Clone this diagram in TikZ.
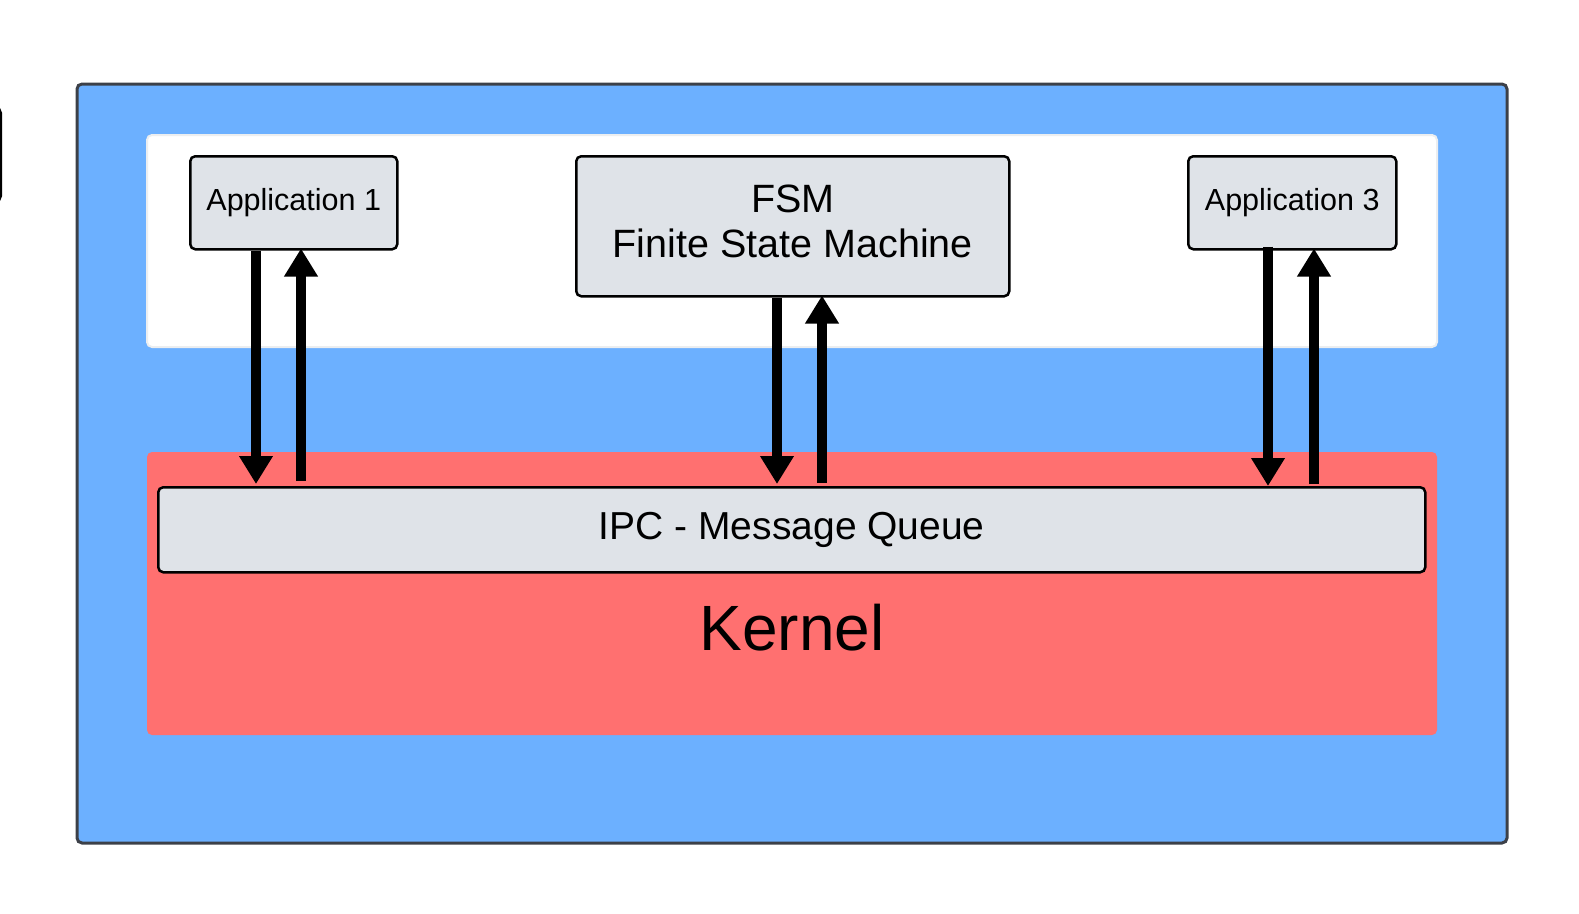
\documentclass[tikz,border=0pt]{standalone}
\usepackage{fontspec}
\setmainfont{Liberation Sans}
\usetikzlibrary{arrows.meta}
\definecolor{outerblue}{RGB}{108,176,255}
\definecolor{outerline}{RGB}{60,64,72}
\definecolor{kernelred}{RGB}{255,112,112}
\definecolor{boxfill}{RGB}{223,227,232}
\definecolor{panelline}{RGB}{236,238,240}
\tikzset{
  px/.style={x=1pt,y=-1pt},
  appbox/.style={draw=black, line width=2.5pt, fill=boxfill, rounded corners=5pt, anchor=north west, inner sep=0pt, align=center},
  arr/.style={line width=10pt, -{Triangle[width=32pt,length=28pt]}},
}
\begin{document}
\begin{tikzpicture}[px]
\useasboundingbox (0,0) rectangle (1579,913);
\clip (0,0) rectangle (1579,913);
% partial box at the left edge
\draw[line width=3pt, rounded corners=5pt] (-40,108) rectangle (0.5,201);
% outer container
\draw[fill=outerblue, draw=outerline, line width=3pt, rounded corners=5pt] (77,84) rectangle (1507,843);
% white panel
\draw[fill=white, draw=panelline, line width=2pt, rounded corners=5pt] (147,135) rectangle (1437,347);
% kernel area
\fill[kernelred, rounded corners=5pt] (147,452) rectangle (1437,735);
\node (kernel) at (792,628) {\fontsize{64}{70}\selectfont Kernel};
% boxes
\node[appbox, minimum width=207pt, minimum height=93pt, font=\fontsize{30.5}{36}\selectfont] (app1) at (189,155) {Application 1};
\node[appbox, minimum width=433pt, minimum height=140pt, font=\fontsize{39.5}{45}\selectfont] (fsm) at (575,155) {\begin{tabular}{@{}c@{}}FSM\\Finite State Machine\end{tabular}};
\node[appbox, minimum width=208pt, minimum height=93pt, font=\fontsize{30.5}{36}\selectfont] (app3) at (1187,155) {Application 3};
\node[appbox, minimum width=1267pt, minimum height=85pt, font=\fontsize{39}{47}\selectfont] (ipc) at (157,486) {IPC - Message Queue};
% arrow columns
\coordinate (c1d) at (256,0);
\coordinate (c1u) at (301,0);
\coordinate (c2d) at (777,0);
\coordinate (c2u) at (822,0);
\coordinate (c3d) at (1268,0);
\coordinate (c3u) at (1314,0);
\draw[arr] (app1.south -| c1d) -- ([yshift=2pt]ipc.north -| c1d);
\draw[arr] ([yshift=5pt]ipc.north -| c1u) -- ([yshift=2pt]app1.south -| c1u);
\draw[arr] (fsm.south -| c2d) -- ([yshift=2pt]ipc.north -| c2d);
\draw[arr] ([yshift=3pt]ipc.north -| c2u) -- ([yshift=2pt]fsm.south -| c2u);
\draw[arr] ([yshift=4pt]app3.south -| c3d) -- ([yshift=0pt]ipc.north -| c3d);
\draw[arr] ([yshift=2pt]ipc.north -| c3u) -- ([yshift=2pt]app3.south -| c3u);
\end{tikzpicture}
\end{document}
